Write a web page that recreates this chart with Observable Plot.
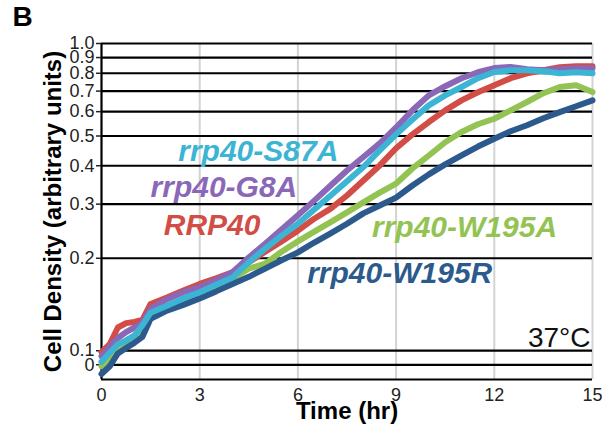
<!DOCTYPE html>
<html>
<head>
<meta charset="utf-8">
<script src="https://cdn.jsdelivr.net/npm/d3@7"></script>
<script src="https://cdn.jsdelivr.net/npm/@observablehq/plot@0.6"></script>
<style>
  html, body { margin: 0; padding: 0; background: #fff; }
  #chart svg { font-family: "Liberation Sans", Arial, sans-serif; }
</style>
</head>
<body>
<div id="chart"></div>
<script>
// Time (hr)
const time = [0, 0.25, 0.5, 0.75, 1, 1.25, 1.5, 2, 2.5, 3, 3.5, 4, 4.5, 5, 5.5, 6, 6.5, 7, 7.5, 8, 8.5, 9, 9.5, 10, 10.5, 11, 11.5, 12, 12.5, 13, 13.5, 14, 14.5, 15];

// Cell density (arbitrary units)
const rrp40_W195A = [0.089, 0.094, 0.100, 0.104, 0.108, 0.116, 0.130, 0.138, 0.146, 0.153, 0.162, 0.172, 0.185, 0.192, 0.210, 0.227, 0.244, 0.262, 0.282, 0.304, 0.327, 0.350, 0.392, 0.432, 0.477, 0.515, 0.546, 0.569, 0.606, 0.645, 0.689, 0.722, 0.731, 0.695];
const rrp40_W195R = [0.084, 0.089, 0.098, 0.102, 0.106, 0.111, 0.127, 0.135, 0.141, 0.148, 0.156, 0.165, 0.174, 0.185, 0.197, 0.209, 0.225, 0.241, 0.259, 0.280, 0.297, 0.315, 0.345, 0.375, 0.404, 0.432, 0.462, 0.490, 0.518, 0.542, 0.571, 0.598, 0.625, 0.653];
const RRP40 = [0.099, 0.105, 0.119, 0.123, 0.124, 0.126, 0.142, 0.149, 0.157, 0.165, 0.172, 0.180, 0.194, 0.210, 0.227, 0.246, 0.269, 0.290, 0.320, 0.358, 0.401, 0.456, 0.506, 0.555, 0.606, 0.653, 0.694, 0.731, 0.771, 0.800, 0.818, 0.837, 0.843, 0.843];
const rrp40_G8A = [0.096, 0.103, 0.110, 0.115, 0.119, 0.123, 0.137, 0.147, 0.155, 0.161, 0.170, 0.180, 0.201, 0.223, 0.248, 0.276, 0.308, 0.345, 0.386, 0.427, 0.473, 0.533, 0.606, 0.678, 0.726, 0.771, 0.806, 0.832, 0.839, 0.824, 0.818, 0.824, 0.831, 0.831];
const rrp40_S87A = [0.092, 0.0985, 0.105, 0.108, 0.112, 0.121, 0.133, 0.140, 0.148, 0.155, 0.164, 0.173, 0.194, 0.215, 0.237, 0.259, 0.288, 0.320, 0.356, 0.396, 0.449, 0.506, 0.566, 0.629, 0.678, 0.722, 0.771, 0.808, 0.818, 0.818, 0.812, 0.800, 0.806, 0.800];

const seriesNames = ["rrp40-W195A", "rrp40-W195R", "RRP40", "rrp40-G8A", "rrp40-S87A"];
const seriesValues = [rrp40_W195A, rrp40_W195R, RRP40, rrp40_G8A, rrp40_S87A];
const seriesColors = ["#93C353", "#2C5A8C", "#D24D46", "#8B68B7", "#3CB4D3"];

// Axis ticks
const xTicks = [0, 3, 6, 9, 12, 15];
const yTicks = [0.09, 0.1, 0.2, 0.3, 0.4, 0.5, 0.6, 0.7, 0.8, 0.9, 1.0];
const yTickLabels = ["0", "0.1", "0.2", "0.3", "0.4", "0.5", "0.6", "0.7", "0.8", "0.9", "1.0"];

// Direct labels (name, anchor time, anchor density)
const labelNames = ["rrp40-S87A", "rrp40-G8A", "RRP40", "rrp40-W195A", "rrp40-W195R"];
const labelTimes = [4.79, 3.74, 3.38, 11.09, 9.11];
const labelValues = [0.447, 0.340, 0.256, 0.252, 0.178];

const rows = seriesNames.flatMap((name, s) =>
  time.map((t, i) => ({name, t, v: seriesValues[s][i]}))
);
const labels = labelNames.map((name, i) => ({name, t: labelTimes[i], v: labelValues[i]}));

const yMin = 0.0806, yMax = 1.0;

const chart = Plot.plot({
  width: 605,
  height: 430,
  marginLeft: 101,
  marginRight: 13,
  marginTop: 43,
  marginBottom: 51,
  style: {fontFamily: "Liberation Sans, Arial, sans-serif", color: "#222", background: "#fff"},
  x: {domain: [0, 15]},
  y: {type: "log", domain: [yMin, yMax]},
  color: {domain: seriesNames, range: seriesColors},
  marks: [
    Plot.ruleX(xTicks.slice(1), {stroke: "#d3d3d3", strokeWidth: 2}),
    Plot.ruleY(yTicks, {stroke: "#000", strokeWidth: 2.2}),
    Plot.ruleY([yMin], {stroke: "#000", strokeWidth: 2.2}),
    Plot.ruleX([0], {stroke: "#000", strokeWidth: 2.2}),
    Plot.axisY({ticks: yTicks, tickFormat: (d) => yTickLabels[yTicks.indexOf(d)], tickSize: 5, tickPadding: 2, fontSize: 18, strokeWidth: 1.5, label: null}),
    Plot.axisX({ticks: xTicks, tickSize: 0, tickPadding: 9, fontSize: 18, label: null}),
    Plot.line(rows, {x: "t", y: "v", z: "name", stroke: "name", strokeWidth: 6, strokeLinejoin: "round", strokeLinecap: "round"}),
    Plot.text(labels, {x: "t", y: "v", text: "name", fill: "name", fontSize: 30, fontWeight: "bold", fontStyle: "italic", textAnchor: "middle", lineAnchor: "middle"}),
    Plot.text(["37°C"], {x: 15, y: 0.1103, dx: -2, textAnchor: "end", lineAnchor: "middle", fontSize: 28, fill: "#111"}),
    Plot.text(["Cell Density (arbitrary units)"], {frameAnchor: "left", dx: -48, rotate: -90, textAnchor: "middle", lineAnchor: "middle", fontSize: 24, fontWeight: "bold", fill: "#000"}),
    Plot.text(["Time (hr)"], {frameAnchor: "bottom", dy: 32, textAnchor: "middle", lineAnchor: "middle", fontSize: 24, fontWeight: "bold", fill: "#000"}),
    Plot.text(["B"], {frameAnchor: "top-left", dx: -89, dy: -26, textAnchor: "start", lineAnchor: "middle", fontSize: 28, fontWeight: "bold", fill: "#000"})
  ]
});
document.getElementById("chart").appendChild(chart);
</script>
</body>
</html>
